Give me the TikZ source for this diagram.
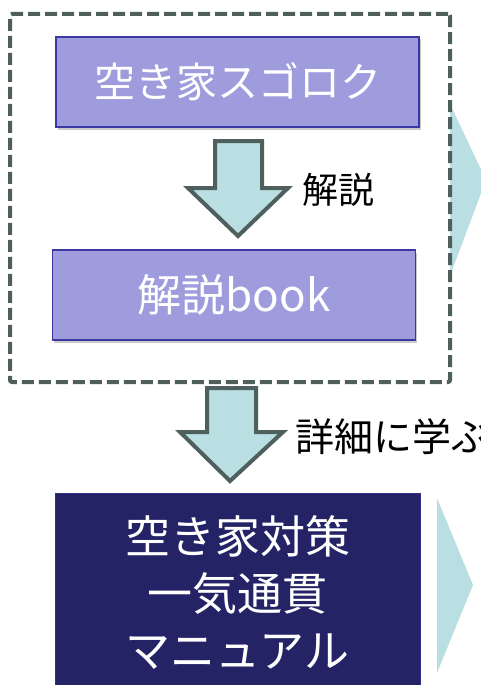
\documentclass[tikz,border=0pt]{standalone}
\usepackage{fontspec}
\setmainfont{Noto Sans CJK JP}
\usetikzlibrary{shadows}
\definecolor{boxfill}{HTML}{9E9CDD}
\definecolor{boxedge}{HTML}{3B37A3}
\definecolor{navy}{HTML}{232366}
\definecolor{arrfill}{HTML}{B9DFE2}
\definecolor{arredge}{HTML}{4F5F5E}
\tikzset{
  lilabox/.style={draw=boxedge, line width=1.2pt, fill=boxfill, text=white,
    minimum width=363pt, minimum height=90pt, inner sep=0pt,
    drop shadow={shadow xshift=1.5pt, shadow yshift=-2.5pt, opacity=0.35, fill=black!60},
    font=\fontsize{41pt}{46pt}\selectfont},
  navybox/.style={draw=boxedge!60!navy, line width=1pt, fill=navy, text=white,
    minimum width=365pt, minimum height=200pt, inner sep=0pt, align=center,
    font=\fontsize{45pt}{57pt}\selectfont},
  blockarrow/.style={draw=arredge, line width=4pt, fill=arrfill, line join=miter},
  tri/.style={fill=arrfill, draw=none},
  lbl/.style={text=black, inner sep=0pt, anchor=west}
}
\begin{document}
\begin{tikzpicture}[x=1pt,y=-1pt]
\useasboundingbox (0,0) rectangle (481,685);
% right triangles
\fill[tri] (450,104) -- (486,180) -- (450,276) -- cycle;
\fill[tri] (437,498) -- (473,585) -- (437,673) -- cycle;
% dashed frame
\node[draw=arredge, line width=4pt, dash pattern=on 12pt off 5pt, rounded corners=2pt,
  minimum width=440pt, minimum height=368pt, inner sep=0pt] (frame) at (230,198) {};
% boxes
\node[lilabox] (b1) at (237.5,82) {空き家スゴロク};
\node[lilabox, font=\fontsize{44pt}{50pt}\selectfont] (b2) at (234,295) {解説book};
\node[navybox] (b3) at (237.5,593) {空き家対策\\一気通貫\\マニュアル};
% arrows
\draw[blockarrow] (215,141) -- (262,141) -- (262,188) -- (288,188) -- (238,236)
  -- (188,188) -- (215,188) -- cycle;
\draw[blockarrow] (207,388) -- (256,388) -- (256,432) -- (283,432) -- (230,481)
  -- (180,432) -- (207,432) -- cycle;
\node[lbl, font=\fontsize{36pt}{40pt}\selectfont] (l1) at (302,190) {解説};
\node[lbl, font=\fontsize{39pt}{44pt}\selectfont] (l2) at (295,437) {詳細に学ぶ};
\end{tikzpicture}
\end{document}
